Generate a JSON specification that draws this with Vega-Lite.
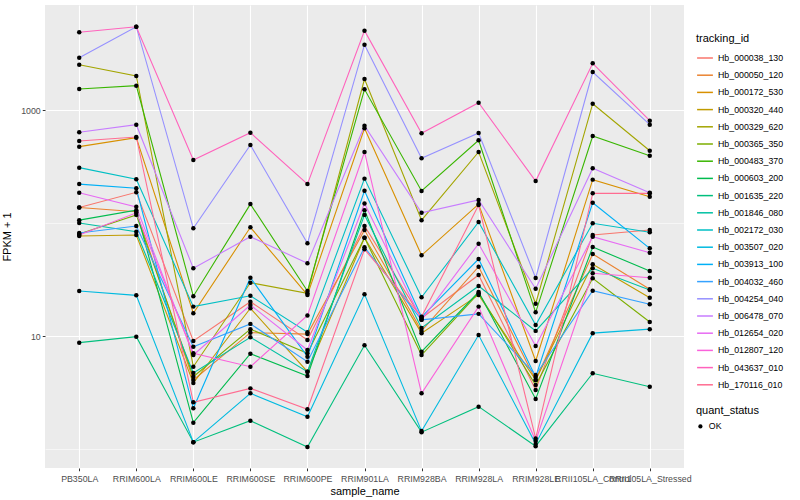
{
  "$schema": "https://vega.github.io/schema/vega-lite/v6.json",
  "width": 639,
  "height": 463,
  "autosize": {"type": "none"},
  "padding": {"left": 45, "top": 5, "right": 116, "bottom": 32},
  "background": "white",
  "config": {
    "view": {"fill": "#EBEBEB", "stroke": null},
    "font": "Liberation Sans",
    "axis": {"domain": false, "labelColor": "#4D4D4D", "labelFontSize": 8.8, "labelFont": "Liberation Sans", "tickColor": "#333333", "tickSize": 2.75, "titleFontWeight": "normal", "titleFontSize": 11, "titleColor": "black", "gridColor": "white", "titleFont": "Liberation Sans"},
    "legend": {"titleFontSize": 11, "titleFontWeight": "normal", "titleColor": "black", "labelFontSize": 8.8, "labelColor": "black", "titleFont": "Liberation Sans", "labelFont": "Liberation Sans"}
  },
  "data": {"values": [
{"tracking_id":"Hb_000038_130","sample_name":"PB350LA","fpkm":137,"quant_status":"OK"},
{"tracking_id":"Hb_000038_130","sample_name":"RRIM600LA","fpkm":187,"quant_status":"OK"},
{"tracking_id":"Hb_000038_130","sample_name":"RRIM600LE","fpkm":9.03,"quant_status":"OK"},
{"tracking_id":"Hb_000038_130","sample_name":"RRIM600SE","fpkm":20.1,"quant_status":"OK"},
{"tracking_id":"Hb_000038_130","sample_name":"RRIM600PE","fpkm":9.22,"quant_status":"OK"},
{"tracking_id":"Hb_000038_130","sample_name":"RRIM901LA","fpkm":94.1,"quant_status":"OK"},
{"tracking_id":"Hb_000038_130","sample_name":"RRIM928BA","fpkm":14.4,"quant_status":"OK"},
{"tracking_id":"Hb_000038_130","sample_name":"RRIM928LA","fpkm":34.7,"quant_status":"OK"},
{"tracking_id":"Hb_000038_130","sample_name":"RRIM928LE","fpkm":3.33,"quant_status":"OK"},
{"tracking_id":"Hb_000038_130","sample_name":"RRII105LA_Control","fpkm":78.3,"quant_status":"OK"},
{"tracking_id":"Hb_000038_130","sample_name":"RRII105LA_Stressed","fpkm":86.7,"quant_status":"OK"},
{"tracking_id":"Hb_000050_120","sample_name":"PB350LA","fpkm":137,"quant_status":"OK"},
{"tracking_id":"Hb_000050_120","sample_name":"RRIM600LA","fpkm":126,"quant_status":"OK"},
{"tracking_id":"Hb_000050_120","sample_name":"RRIM600LE","fpkm":4.08,"quant_status":"OK"},
{"tracking_id":"Hb_000050_120","sample_name":"RRIM600SE","fpkm":10.7,"quant_status":"OK"},
{"tracking_id":"Hb_000050_120","sample_name":"RRIM600PE","fpkm":10.4,"quant_status":"OK"},
{"tracking_id":"Hb_000050_120","sample_name":"RRIM901LA","fpkm":86.7,"quant_status":"OK"},
{"tracking_id":"Hb_000050_120","sample_name":"RRIM928BA","fpkm":11.1,"quant_status":"OK"},
{"tracking_id":"Hb_000050_120","sample_name":"RRIM928LA","fpkm":41.0,"quant_status":"OK"},
{"tracking_id":"Hb_000050_120","sample_name":"RRIM928LE","fpkm":4.08,"quant_status":"OK"},
{"tracking_id":"Hb_000050_120","sample_name":"RRII105LA_Control","fpkm":53.2,"quant_status":"OK"},
{"tracking_id":"Hb_000050_120","sample_name":"RRII105LA_Stressed","fpkm":25.9,"quant_status":"OK"},
{"tracking_id":"Hb_000172_530","sample_name":"PB350LA","fpkm":474,"quant_status":"OK"},
{"tracking_id":"Hb_000172_530","sample_name":"RRIM600LA","fpkm":569,"quant_status":"OK"},
{"tracking_id":"Hb_000172_530","sample_name":"RRIM600LE","fpkm":15.9,"quant_status":"OK"},
{"tracking_id":"Hb_000172_530","sample_name":"RRIM600SE","fpkm":91.6,"quant_status":"OK"},
{"tracking_id":"Hb_000172_530","sample_name":"RRIM600PE","fpkm":23.1,"quant_status":"OK"},
{"tracking_id":"Hb_000172_530","sample_name":"RRIM901LA","fpkm":689,"quant_status":"OK"},
{"tracking_id":"Hb_000172_530","sample_name":"RRIM928BA","fpkm":51.8,"quant_status":"OK"},
{"tracking_id":"Hb_000172_530","sample_name":"RRIM928LA","fpkm":147,"quant_status":"OK"},
{"tracking_id":"Hb_000172_530","sample_name":"RRIM928LE","fpkm":6.01,"quant_status":"OK"},
{"tracking_id":"Hb_000172_530","sample_name":"RRII105LA_Control","fpkm":242,"quant_status":"OK"},
{"tracking_id":"Hb_000172_530","sample_name":"RRII105LA_Stressed","fpkm":171,"quant_status":"OK"},
{"tracking_id":"Hb_000320_440","sample_name":"PB350LA","fpkm":76.7,"quant_status":"OK"},
{"tracking_id":"Hb_000320_440","sample_name":"RRIM600LA","fpkm":78.3,"quant_status":"OK"},
{"tracking_id":"Hb_000320_440","sample_name":"RRIM600LE","fpkm":3.84,"quant_status":"OK"},
{"tracking_id":"Hb_000320_440","sample_name":"RRIM600SE","fpkm":17.6,"quant_status":"OK"},
{"tracking_id":"Hb_000320_440","sample_name":"RRIM600PE","fpkm":4.83,"quant_status":"OK"},
{"tracking_id":"Hb_000320_440","sample_name":"RRIM901LA","fpkm":74.1,"quant_status":"OK"},
{"tracking_id":"Hb_000320_440","sample_name":"RRIM928BA","fpkm":10.6,"quant_status":"OK"},
{"tracking_id":"Hb_000320_440","sample_name":"RRIM928LA","fpkm":23.1,"quant_status":"OK"},
{"tracking_id":"Hb_000320_440","sample_name":"RRIM928LE","fpkm":4.08,"quant_status":"OK"},
{"tracking_id":"Hb_000320_440","sample_name":"RRII105LA_Control","fpkm":43.1,"quant_status":"OK"},
{"tracking_id":"Hb_000320_440","sample_name":"RRII105LA_Stressed","fpkm":21.8,"quant_status":"OK"},
{"tracking_id":"Hb_000329_620","sample_name":"PB350LA","fpkm":2518,"quant_status":"OK"},
{"tracking_id":"Hb_000329_620","sample_name":"RRIM600LA","fpkm":2000,"quant_status":"OK"},
{"tracking_id":"Hb_000329_620","sample_name":"RRIM600LE","fpkm":5.35,"quant_status":"OK"},
{"tracking_id":"Hb_000329_620","sample_name":"RRIM600SE","fpkm":29.6,"quant_status":"OK"},
{"tracking_id":"Hb_000329_620","sample_name":"RRIM600PE","fpkm":23.9,"quant_status":"OK"},
{"tracking_id":"Hb_000329_620","sample_name":"RRIM901LA","fpkm":1881,"quant_status":"OK"},
{"tracking_id":"Hb_000329_620","sample_name":"RRIM928BA","fpkm":106,"quant_status":"OK"},
{"tracking_id":"Hb_000329_620","sample_name":"RRIM928LA","fpkm":425,"quant_status":"OK"},
{"tracking_id":"Hb_000329_620","sample_name":"RRIM928LE","fpkm":19.3,"quant_status":"OK"},
{"tracking_id":"Hb_000329_620","sample_name":"RRII105LA_Control","fpkm":1137,"quant_status":"OK"},
{"tracking_id":"Hb_000329_620","sample_name":"RRII105LA_Stressed","fpkm":436,"quant_status":"OK"},
{"tracking_id":"Hb_000365_350","sample_name":"PB350LA","fpkm":79.9,"quant_status":"OK"},
{"tracking_id":"Hb_000365_350","sample_name":"RRIM600LA","fpkm":118,"quant_status":"OK"},
{"tracking_id":"Hb_000365_350","sample_name":"RRIM600LE","fpkm":4.36,"quant_status":"OK"},
{"tracking_id":"Hb_000365_350","sample_name":"RRIM600SE","fpkm":11.5,"quant_status":"OK"},
{"tracking_id":"Hb_000365_350","sample_name":"RRIM600PE","fpkm":7.03,"quant_status":"OK"},
{"tracking_id":"Hb_000365_350","sample_name":"RRIM901LA","fpkm":74.1,"quant_status":"OK"},
{"tracking_id":"Hb_000365_350","sample_name":"RRIM928BA","fpkm":6.79,"quant_status":"OK"},
{"tracking_id":"Hb_000365_350","sample_name":"RRIM928LA","fpkm":23.9,"quant_status":"OK"},
{"tracking_id":"Hb_000365_350","sample_name":"RRIM928LE","fpkm":3.68,"quant_status":"OK"},
{"tracking_id":"Hb_000365_350","sample_name":"RRII105LA_Control","fpkm":32.4,"quant_status":"OK"},
{"tracking_id":"Hb_000365_350","sample_name":"RRII105LA_Stressed","fpkm":13.3,"quant_status":"OK"},
{"tracking_id":"Hb_000483_370","sample_name":"PB350LA","fpkm":1535,"quant_status":"OK"},
{"tracking_id":"Hb_000483_370","sample_name":"RRIM600LA","fpkm":1641,"quant_status":"OK"},
{"tracking_id":"Hb_000483_370","sample_name":"RRIM600LE","fpkm":22.5,"quant_status":"OK"},
{"tracking_id":"Hb_000483_370","sample_name":"RRIM600SE","fpkm":147,"quant_status":"OK"},
{"tracking_id":"Hb_000483_370","sample_name":"RRIM600PE","fpkm":25.0,"quant_status":"OK"},
{"tracking_id":"Hb_000483_370","sample_name":"RRIM901LA","fpkm":1524,"quant_status":"OK"},
{"tracking_id":"Hb_000483_370","sample_name":"RRIM928BA","fpkm":192,"quant_status":"OK"},
{"tracking_id":"Hb_000483_370","sample_name":"RRIM928LA","fpkm":539,"quant_status":"OK"},
{"tracking_id":"Hb_000483_370","sample_name":"RRIM928LE","fpkm":16.2,"quant_status":"OK"},
{"tracking_id":"Hb_000483_370","sample_name":"RRII105LA_Control","fpkm":589,"quant_status":"OK"},
{"tracking_id":"Hb_000483_370","sample_name":"RRII105LA_Stressed","fpkm":394,"quant_status":"OK"},
{"tracking_id":"Hb_000603_200","sample_name":"PB350LA","fpkm":106,"quant_status":"OK"},
{"tracking_id":"Hb_000603_200","sample_name":"RRIM600LA","fpkm":130,"quant_status":"OK"},
{"tracking_id":"Hb_000603_200","sample_name":"RRIM600LE","fpkm":1.71,"quant_status":"OK"},
{"tracking_id":"Hb_000603_200","sample_name":"RRIM600SE","fpkm":6.97,"quant_status":"OK"},
{"tracking_id":"Hb_000603_200","sample_name":"RRIM600PE","fpkm":4.43,"quant_status":"OK"},
{"tracking_id":"Hb_000603_200","sample_name":"RRIM901LA","fpkm":130,"quant_status":"OK"},
{"tracking_id":"Hb_000603_200","sample_name":"RRIM928BA","fpkm":7.26,"quant_status":"OK"},
{"tracking_id":"Hb_000603_200","sample_name":"RRIM928LA","fpkm":24.5,"quant_status":"OK"},
{"tracking_id":"Hb_000603_200","sample_name":"RRIM928LE","fpkm":2.77,"quant_status":"OK"},
{"tracking_id":"Hb_000603_200","sample_name":"RRII105LA_Control","fpkm":61.3,"quant_status":"OK"},
{"tracking_id":"Hb_000603_200","sample_name":"RRII105LA_Stressed","fpkm":37.6,"quant_status":"OK"},
{"tracking_id":"Hb_001635_220","sample_name":"PB350LA","fpkm":8.73,"quant_status":"OK"},
{"tracking_id":"Hb_001635_220","sample_name":"RRIM600LA","fpkm":9.86,"quant_status":"OK"},
{"tracking_id":"Hb_001635_220","sample_name":"RRIM600LE","fpkm":1.15,"quant_status":"OK"},
{"tracking_id":"Hb_001635_220","sample_name":"RRIM600SE","fpkm":1.78,"quant_status":"OK"},
{"tracking_id":"Hb_001635_220","sample_name":"RRIM600PE","fpkm":1.04,"quant_status":"OK"},
{"tracking_id":"Hb_001635_220","sample_name":"RRIM901LA","fpkm":8.28,"quant_status":"OK"},
{"tracking_id":"Hb_001635_220","sample_name":"RRIM928BA","fpkm":1.41,"quant_status":"OK"},
{"tracking_id":"Hb_001635_220","sample_name":"RRIM928LA","fpkm":2.37,"quant_status":"OK"},
{"tracking_id":"Hb_001635_220","sample_name":"RRIM928LE","fpkm":1.06,"quant_status":"OK"},
{"tracking_id":"Hb_001635_220","sample_name":"RRII105LA_Control","fpkm":4.68,"quant_status":"OK"},
{"tracking_id":"Hb_001635_220","sample_name":"RRII105LA_Stressed","fpkm":3.56,"quant_status":"OK"},
{"tracking_id":"Hb_001846_080","sample_name":"PB350LA","fpkm":100,"quant_status":"OK"},
{"tracking_id":"Hb_001846_080","sample_name":"RRIM600LA","fpkm":83.8,"quant_status":"OK"},
{"tracking_id":"Hb_001846_080","sample_name":"RRIM600LE","fpkm":4.71,"quant_status":"OK"},
{"tracking_id":"Hb_001846_080","sample_name":"RRIM600SE","fpkm":9.74,"quant_status":"OK"},
{"tracking_id":"Hb_001846_080","sample_name":"RRIM600PE","fpkm":4.83,"quant_status":"OK"},
{"tracking_id":"Hb_001846_080","sample_name":"RRIM901LA","fpkm":118,"quant_status":"OK"},
{"tracking_id":"Hb_001846_080","sample_name":"RRIM928BA","fpkm":11.8,"quant_status":"OK"},
{"tracking_id":"Hb_001846_080","sample_name":"RRIM928LA","fpkm":27.7,"quant_status":"OK"},
{"tracking_id":"Hb_001846_080","sample_name":"RRIM928LE","fpkm":11.1,"quant_status":"OK"},
{"tracking_id":"Hb_001846_080","sample_name":"RRII105LA_Control","fpkm":39.7,"quant_status":"OK"},
{"tracking_id":"Hb_001846_080","sample_name":"RRII105LA_Stressed","fpkm":25.5,"quant_status":"OK"},
{"tracking_id":"Hb_002172_030","sample_name":"PB350LA","fpkm":309,"quant_status":"OK"},
{"tracking_id":"Hb_002172_030","sample_name":"RRIM600LA","fpkm":244,"quant_status":"OK"},
{"tracking_id":"Hb_002172_030","sample_name":"RRIM600LE","fpkm":18.2,"quant_status":"OK"},
{"tracking_id":"Hb_002172_030","sample_name":"RRIM600SE","fpkm":22.7,"quant_status":"OK"},
{"tracking_id":"Hb_002172_030","sample_name":"RRIM600PE","fpkm":10.8,"quant_status":"OK"},
{"tracking_id":"Hb_002172_030","sample_name":"RRIM901LA","fpkm":247,"quant_status":"OK"},
{"tracking_id":"Hb_002172_030","sample_name":"RRIM928BA","fpkm":22.0,"quant_status":"OK"},
{"tracking_id":"Hb_002172_030","sample_name":"RRIM928LA","fpkm":102,"quant_status":"OK"},
{"tracking_id":"Hb_002172_030","sample_name":"RRIM928LE","fpkm":12.5,"quant_status":"OK"},
{"tracking_id":"Hb_002172_030","sample_name":"RRII105LA_Control","fpkm":99.4,"quant_status":"OK"},
{"tracking_id":"Hb_002172_030","sample_name":"RRII105LA_Stressed","fpkm":82.7,"quant_status":"OK"},
{"tracking_id":"Hb_003507_020","sample_name":"PB350LA","fpkm":25.0,"quant_status":"OK"},
{"tracking_id":"Hb_003507_020","sample_name":"RRIM600LA","fpkm":22.9,"quant_status":"OK"},
{"tracking_id":"Hb_003507_020","sample_name":"RRIM600LE","fpkm":1.15,"quant_status":"OK"},
{"tracking_id":"Hb_003507_020","sample_name":"RRIM600SE","fpkm":3.11,"quant_status":"OK"},
{"tracking_id":"Hb_003507_020","sample_name":"RRIM600PE","fpkm":1.93,"quant_status":"OK"},
{"tracking_id":"Hb_003507_020","sample_name":"RRIM901LA","fpkm":23.4,"quant_status":"OK"},
{"tracking_id":"Hb_003507_020","sample_name":"RRIM928BA","fpkm":1.44,"quant_status":"OK"},
{"tracking_id":"Hb_003507_020","sample_name":"RRIM928LA","fpkm":10.2,"quant_status":"OK"},
{"tracking_id":"Hb_003507_020","sample_name":"RRIM928LE","fpkm":1.11,"quant_status":"OK"},
{"tracking_id":"Hb_003507_020","sample_name":"RRII105LA_Control","fpkm":10.6,"quant_status":"OK"},
{"tracking_id":"Hb_003507_020","sample_name":"RRII105LA_Stressed","fpkm":11.5,"quant_status":"OK"},
{"tracking_id":"Hb_003913_100","sample_name":"PB350LA","fpkm":221,"quant_status":"OK"},
{"tracking_id":"Hb_003913_100","sample_name":"RRIM600LA","fpkm":203,"quant_status":"OK"},
{"tracking_id":"Hb_003913_100","sample_name":"RRIM600LE","fpkm":2.29,"quant_status":"OK"},
{"tracking_id":"Hb_003913_100","sample_name":"RRIM600SE","fpkm":32.8,"quant_status":"OK"},
{"tracking_id":"Hb_003913_100","sample_name":"RRIM600PE","fpkm":6.56,"quant_status":"OK"},
{"tracking_id":"Hb_003913_100","sample_name":"RRIM901LA","fpkm":193,"quant_status":"OK"},
{"tracking_id":"Hb_003913_100","sample_name":"RRIM928BA","fpkm":14.7,"quant_status":"OK"},
{"tracking_id":"Hb_003913_100","sample_name":"RRIM928LA","fpkm":48.0,"quant_status":"OK"},
{"tracking_id":"Hb_003913_100","sample_name":"RRIM928LE","fpkm":4.34,"quant_status":"OK"},
{"tracking_id":"Hb_003913_100","sample_name":"RRII105LA_Control","fpkm":151,"quant_status":"OK"},
{"tracking_id":"Hb_003913_100","sample_name":"RRII105LA_Stressed","fpkm":59.7,"quant_status":"OK"},
{"tracking_id":"Hb_004032_460","sample_name":"PB350LA","fpkm":81.6,"quant_status":"OK"},
{"tracking_id":"Hb_004032_460","sample_name":"RRIM600LA","fpkm":94.1,"quant_status":"OK"},
{"tracking_id":"Hb_004032_460","sample_name":"RRIM600LE","fpkm":8.04,"quant_status":"OK"},
{"tracking_id":"Hb_004032_460","sample_name":"RRIM600SE","fpkm":12.8,"quant_status":"OK"},
{"tracking_id":"Hb_004032_460","sample_name":"RRIM600PE","fpkm":5.93,"quant_status":"OK"},
{"tracking_id":"Hb_004032_460","sample_name":"RRIM901LA","fpkm":60.9,"quant_status":"OK"},
{"tracking_id":"Hb_004032_460","sample_name":"RRIM928BA","fpkm":13.9,"quant_status":"OK"},
{"tracking_id":"Hb_004032_460","sample_name":"RRIM928LA","fpkm":15.7,"quant_status":"OK"},
{"tracking_id":"Hb_004032_460","sample_name":"RRIM928LE","fpkm":4.52,"quant_status":"OK"},
{"tracking_id":"Hb_004032_460","sample_name":"RRII105LA_Control","fpkm":25.2,"quant_status":"OK"},
{"tracking_id":"Hb_004032_460","sample_name":"RRII105LA_Stressed","fpkm":19.1,"quant_status":"OK"},
{"tracking_id":"Hb_004254_040","sample_name":"PB350LA","fpkm":2904,"quant_status":"OK"},
{"tracking_id":"Hb_004254_040","sample_name":"RRIM600LA","fpkm":5458,"quant_status":"OK"},
{"tracking_id":"Hb_004254_040","sample_name":"RRIM600LE","fpkm":89.8,"quant_status":"OK"},
{"tracking_id":"Hb_004254_040","sample_name":"RRIM600SE","fpkm":490,"quant_status":"OK"},
{"tracking_id":"Hb_004254_040","sample_name":"RRIM600PE","fpkm":66.1,"quant_status":"OK"},
{"tracking_id":"Hb_004254_040","sample_name":"RRIM901LA","fpkm":3784,"quant_status":"OK"},
{"tracking_id":"Hb_004254_040","sample_name":"RRIM928BA","fpkm":374,"quant_status":"OK"},
{"tracking_id":"Hb_004254_040","sample_name":"RRIM928LA","fpkm":626,"quant_status":"OK"},
{"tracking_id":"Hb_004254_040","sample_name":"RRIM928LE","fpkm":32.6,"quant_status":"OK"},
{"tracking_id":"Hb_004254_040","sample_name":"RRII105LA_Control","fpkm":2169,"quant_status":"OK"},
{"tracking_id":"Hb_004254_040","sample_name":"RRII105LA_Stressed","fpkm":741,"quant_status":"OK"},
{"tracking_id":"Hb_006478_070","sample_name":"PB350LA","fpkm":635,"quant_status":"OK"},
{"tracking_id":"Hb_006478_070","sample_name":"RRIM600LA","fpkm":741,"quant_status":"OK"},
{"tracking_id":"Hb_006478_070","sample_name":"RRIM600LE","fpkm":39.7,"quant_status":"OK"},
{"tracking_id":"Hb_006478_070","sample_name":"RRIM600SE","fpkm":75.7,"quant_status":"OK"},
{"tracking_id":"Hb_006478_070","sample_name":"RRIM600PE","fpkm":44.0,"quant_status":"OK"},
{"tracking_id":"Hb_006478_070","sample_name":"RRIM901LA","fpkm":726,"quant_status":"OK"},
{"tracking_id":"Hb_006478_070","sample_name":"RRIM928BA","fpkm":123,"quant_status":"OK"},
{"tracking_id":"Hb_006478_070","sample_name":"RRIM928LA","fpkm":160,"quant_status":"OK"},
{"tracking_id":"Hb_006478_070","sample_name":"RRIM928LE","fpkm":26.2,"quant_status":"OK"},
{"tracking_id":"Hb_006478_070","sample_name":"RRII105LA_Control","fpkm":305,"quant_status":"OK"},
{"tracking_id":"Hb_006478_070","sample_name":"RRII105LA_Stressed","fpkm":185,"quant_status":"OK"},
{"tracking_id":"Hb_012654_020","sample_name":"PB350LA","fpkm":185,"quant_status":"OK"},
{"tracking_id":"Hb_012654_020","sample_name":"RRIM600LA","fpkm":139,"quant_status":"OK"},
{"tracking_id":"Hb_012654_020","sample_name":"RRIM600LE","fpkm":6.79,"quant_status":"OK"},
{"tracking_id":"Hb_012654_020","sample_name":"RRIM600SE","fpkm":18.8,"quant_status":"OK"},
{"tracking_id":"Hb_012654_020","sample_name":"RRIM600PE","fpkm":7.52,"quant_status":"OK"},
{"tracking_id":"Hb_012654_020","sample_name":"RRIM901LA","fpkm":149,"quant_status":"OK"},
{"tracking_id":"Hb_012654_020","sample_name":"RRIM928BA","fpkm":13.9,"quant_status":"OK"},
{"tracking_id":"Hb_012654_020","sample_name":"RRIM928LA","fpkm":65.6,"quant_status":"OK"},
{"tracking_id":"Hb_012654_020","sample_name":"RRIM928LE","fpkm":8.16,"quant_status":"OK"},
{"tracking_id":"Hb_012654_020","sample_name":"RRII105LA_Control","fpkm":75.7,"quant_status":"OK"},
{"tracking_id":"Hb_012654_020","sample_name":"RRII105LA_Stressed","fpkm":54.6,"quant_status":"OK"},
{"tracking_id":"Hb_012807_120","sample_name":"PB350LA","fpkm":78.3,"quant_status":"OK"},
{"tracking_id":"Hb_012807_120","sample_name":"RRIM600LA","fpkm":123,"quant_status":"OK"},
{"tracking_id":"Hb_012807_120","sample_name":"RRIM600LE","fpkm":7.03,"quant_status":"OK"},
{"tracking_id":"Hb_012807_120","sample_name":"RRIM600SE","fpkm":5.35,"quant_status":"OK"},
{"tracking_id":"Hb_012807_120","sample_name":"RRIM600PE","fpkm":15.2,"quant_status":"OK"},
{"tracking_id":"Hb_012807_120","sample_name":"RRIM901LA","fpkm":425,"quant_status":"OK"},
{"tracking_id":"Hb_012807_120","sample_name":"RRIM928BA","fpkm":3.11,"quant_status":"OK"},
{"tracking_id":"Hb_012807_120","sample_name":"RRIM928LA","fpkm":18.2,"quant_status":"OK"},
{"tracking_id":"Hb_012807_120","sample_name":"RRIM928LE","fpkm":1.18,"quant_status":"OK"},
{"tracking_id":"Hb_012807_120","sample_name":"RRII105LA_Control","fpkm":35.9,"quant_status":"OK"},
{"tracking_id":"Hb_012807_120","sample_name":"RRII105LA_Stressed","fpkm":32.8,"quant_status":"OK"},
{"tracking_id":"Hb_043637_010","sample_name":"PB350LA","fpkm":4873,"quant_status":"OK"},
{"tracking_id":"Hb_043637_010","sample_name":"RRIM600LA","fpkm":5458,"quant_status":"OK"},
{"tracking_id":"Hb_043637_010","sample_name":"RRIM600LE","fpkm":361,"quant_status":"OK"},
{"tracking_id":"Hb_043637_010","sample_name":"RRIM600SE","fpkm":630,"quant_status":"OK"},
{"tracking_id":"Hb_043637_010","sample_name":"RRIM600PE","fpkm":221,"quant_status":"OK"},
{"tracking_id":"Hb_043637_010","sample_name":"RRIM901LA","fpkm":5035,"quant_status":"OK"},
{"tracking_id":"Hb_043637_010","sample_name":"RRIM928BA","fpkm":622,"quant_status":"OK"},
{"tracking_id":"Hb_043637_010","sample_name":"RRIM928LA","fpkm":1161,"quant_status":"OK"},
{"tracking_id":"Hb_043637_010","sample_name":"RRIM928LE","fpkm":235,"quant_status":"OK"},
{"tracking_id":"Hb_043637_010","sample_name":"RRII105LA_Control","fpkm":2589,"quant_status":"OK"},
{"tracking_id":"Hb_043637_010","sample_name":"RRII105LA_Stressed","fpkm":804,"quant_status":"OK"},
{"tracking_id":"Hb_170116_010","sample_name":"PB350LA","fpkm":532,"quant_status":"OK"},
{"tracking_id":"Hb_170116_010","sample_name":"RRIM600LA","fpkm":577,"quant_status":"OK"},
{"tracking_id":"Hb_170116_010","sample_name":"RRIM600LE","fpkm":2.59,"quant_status":"OK"},
{"tracking_id":"Hb_170116_010","sample_name":"RRIM600SE","fpkm":3.44,"quant_status":"OK"},
{"tracking_id":"Hb_170116_010","sample_name":"RRIM600PE","fpkm":2.25,"quant_status":"OK"},
{"tracking_id":"Hb_170116_010","sample_name":"RRIM901LA","fpkm":58.5,"quant_status":"OK"},
{"tracking_id":"Hb_170116_010","sample_name":"RRIM928BA","fpkm":14.8,"quant_status":"OK"},
{"tracking_id":"Hb_170116_010","sample_name":"RRIM928LA","fpkm":144,"quant_status":"OK"},
{"tracking_id":"Hb_170116_010","sample_name":"RRIM928LE","fpkm":1.24,"quant_status":"OK"},
{"tracking_id":"Hb_170116_010","sample_name":"RRII105LA_Control","fpkm":183,"quant_status":"OK"},
{"tracking_id":"Hb_170116_010","sample_name":"RRII105LA_Stressed","fpkm":183,"quant_status":"OK"}
  ]},
  "encoding": {
    "x": {"field": "sample_name", "type": "nominal",
      "sort": ["PB350LA","RRIM600LA","RRIM600LE","RRIM600SE","RRIM600PE","RRIM901LA","RRIM928BA","RRIM928LA","RRIM928LE","RRII105LA_Control","RRII105LA_Stressed"],
      "scale": {"type": "point", "padding": 0.6},
      "axis": {"title": "sample_name", "labelAngle": 0, "labelOverlap": false, "labelLimit": 0, "grid": true, "gridWidth": 1.1, "labelPadding": 4, "titlePadding": 2}},
    "y": {"field": "fpkm", "type": "quantitative",
      "scale": {"type": "log", "domain": [0.679, 8497], "nice": false, "zero": false},
      "axis": {"title": "FPKM + 1", "values": [1, 10, 100, 1000],
        "labelExpr": "datum.value == 10 ? '10' : (datum.value == 1000 ? '1000' : '')",
        "gridWidth": {"condition": {"test": "datum.value == 10 || datum.value == 1000", "value": 1.1}, "value": 0.55},
        "tickOpacity": {"condition": {"test": "datum.value == 10 || datum.value == 1000", "value": 1}, "value": 0},
        "labelPadding": 2, "titlePadding": 8}}
  },
  "layer": [
    {"mark": {"type": "line", "strokeWidth": 1.1},
     "encoding": {
       "color": {"field": "tracking_id", "type": "nominal",
         "scale": {"domain": ["Hb_000038_130","Hb_000050_120","Hb_000172_530","Hb_000320_440","Hb_000329_620","Hb_000365_350","Hb_000483_370","Hb_000603_200","Hb_001635_220","Hb_001846_080","Hb_002172_030","Hb_003507_020","Hb_003913_100","Hb_004032_460","Hb_004254_040","Hb_006478_070","Hb_012654_020","Hb_012807_120","Hb_043637_010","Hb_170116_010"],
           "range": ["#F8766D","#EA8331","#D89000","#C09B00","#A3A500","#7CAE00","#39B600","#00BB4E","#00BF7D","#00C1A3","#00BFC4","#00BAE0","#00B0F6","#35A2FF","#9590FF","#C77CFF","#E76BF3","#FA62DB","#FF62BC","#FF6C91"]},
         "legend": {"title": "tracking_id", "orient": "none", "legendX": 651, "legendY": 28, "symbolType": "stroke", "symbolStrokeWidth": 1.5, "symbolSize": 250, "rowPadding": 3.2, "titlePadding": 5}}
     }},
    {"mark": {"type": "point", "filled": true, "size": 20, "color": "black", "opacity": 1},
     "encoding": {
       "shape": {"field": "quant_status", "type": "nominal", "scale": {"range": ["circle"]},
         "legend": {"title": "quant_status", "orient": "none", "legendX": 651, "legendY": 400, "symbolFillColor": "black", "symbolStrokeColor": "black", "symbolSize": 18, "titlePadding": 6}}
     }}
  ]
}
